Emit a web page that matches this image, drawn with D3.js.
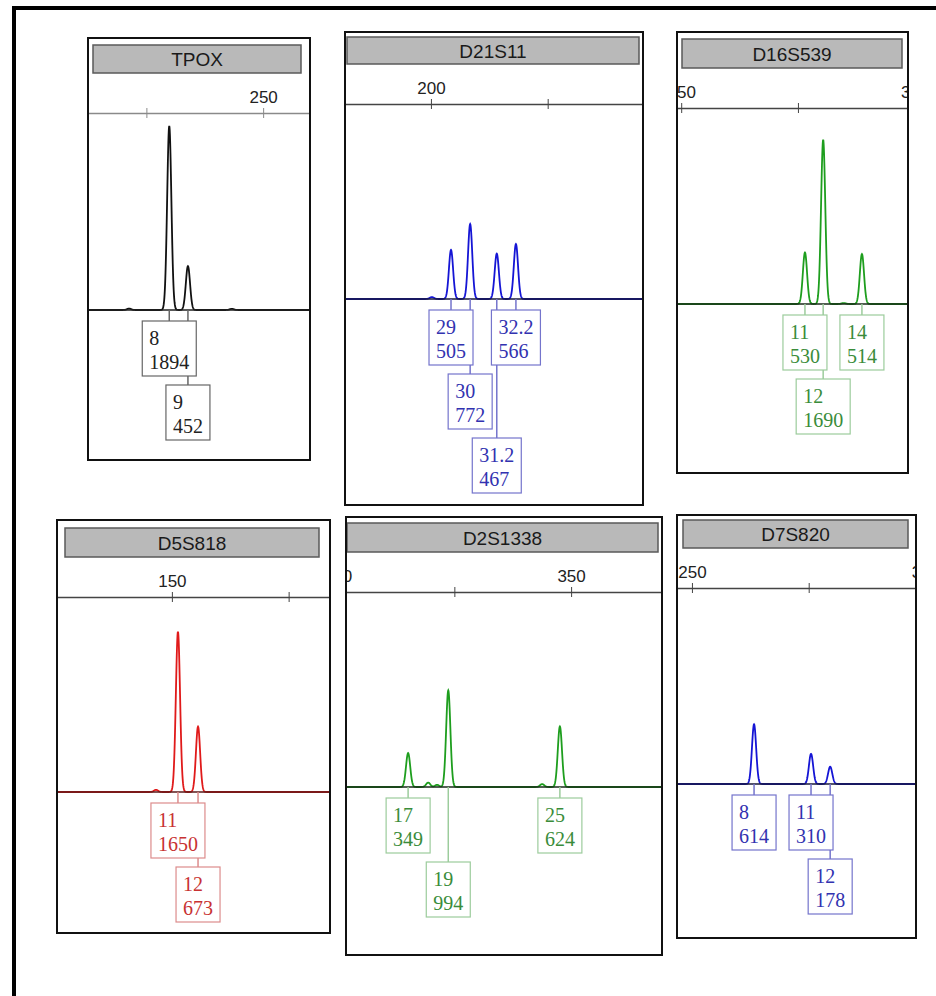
<!DOCTYPE html>
<html lang="en">
<head>
<meta charset="UTF-8">
<title>STR electropherogram</title>
<script src="https://d3js.org/d3.v7.min.js"></script>
<style>
  * { margin: 0; padding: 0 }
  body { background: #fff; }
</style>
</head>
<body>
<script>
// locus data
const loci = ['TPOX', 'D21S11', 'D16S539', 'D5S818', 'D2S1338', 'D7S820'];
const dyes = ['black', 'blue', 'green', 'red', 'green', 'blue'];
const alleles = [['8', '9'], ['29', '30', '31.2', '32.2'], ['11', '12', '14'], ['11', '12'], ['17', '19', '25'], ['8', '11', '12']];
const sizes = [[229.9, 233.9], [204.3, 208.4, 214.1, 218.2], [276.5, 280.4, 288.7], [151.3, 155.6], [315.1, 323.7, 347.6], [263.3, 275.5, 279.6]];
const heights = [[1894, 452], [505, 772, 467, 566], [530, 1690, 514], [1650, 673], [349, 994, 624], [614, 310, 178]];
// small unlabelled bumps [bp, rfu]
const minorPeaks = [[[221.3, 15], [243.3, 12]], [[200.2, 20]], [[284.8, 10]], [[146.6, 22]], [[319.4, 45], [321.3, 22], [343.8, 30]], []];
const tickValues = [[225, 250], [200, 225], [250, 275, 300], [150, 175], [300, 325, 350], [250, 275, 300]];

// panel geometry
const layout = [
    { x: 88, y: 38, w: 222, h: 422, bp0: 212.5, axisY: 75, baseY: 272, bar: [5, 7, 208, 28], axisColor: '#8a8a8a' },
    { x: 345, y: 32, w: 298, h: 473, bp0: 181.6, axisY: 72, baseY: 267, bar: [2, 5, 292, 27], axisColor: '#444' },
    { x: 677, y: 32, w: 231, h: 441, bp0: 249.1, axisY: 76, baseY: 272, bar: [5, 7, 220, 29], axisColor: '#444' },
    { x: 57, y: 520, w: 273, h: 413, bp0: 125.4, axisY: 77, baseY: 272, bar: [8, 8, 254, 29], axisColor: '#444' },
    { x: 346, y: 517, w: 316, h: 438, bp0: 301.8, axisY: 75, baseY: 270, bar: [1, 6, 311, 29], axisColor: '#444' },
    { x: 677, y: 515, w: 239, h: 423, bp0: 246.8, axisY: 73, baseY: 269, bar: [6, 5, 225, 28], axisColor: '#444' }
];

const palette = {
    black: { trace: '#111', base: '#222', text: '#222', box: '#666' },
    blue: { trace: '#1515d5', base: '#1a1a3a', text: '#3232b0', box: '#7474cc' },
    green: { trace: '#1e9e1e', base: '#1a2a1a', text: '#3a8c3a', box: '#9ccc9c' },
    red: { trace: '#e01a1a', base: '#5a1a1a', text: '#c83232', box: '#dc8c8c' }
};

const pxPerBp = 4.67;
const sigma = 0.45;
const W = 936, H = 996;

const svg = d3.select('body').append('svg')
    .attr('width', W)
    .attr('height', H);

// outer frame (top and left only)
svg.append('path')
    .attr('d', 'M14,' + H + 'V8H' + W)
    .attr('fill', 'none')
    .attr('stroke', '#000')
    .attr('stroke-width', 4);

// shared height scale, px per rfu
const y = d3.scaleLinear().domain([0, 2000]).range([0, 194.4]);

const defs = svg.append('defs');

loci.forEach((name, i) => {
    const L = layout[i];
    const col = palette[dyes[i]];
    const x = d3.scaleLinear()
        .domain([L.bp0, L.bp0 + L.w / pxPerBp])
        .range([0, L.w]);

    defs.append('clipPath').attr('id', 'clip' + i)
        .append('rect').attr('width', L.w).attr('height', L.h);

    const g = svg.append('g')
        .attr('transform', 'translate(' + L.x + ',' + L.y + ')');
    const inner = g.append('g').attr('clip-path', 'url(#clip' + i + ')');

    inner.append('rect')
        .attr('width', L.w).attr('height', L.h)
        .attr('fill', '#fff');

    // title bar
    inner.append('rect')
        .attr('x', L.bar[0]).attr('y', L.bar[1])
        .attr('width', L.bar[2]).attr('height', L.bar[3])
        .attr('fill', '#b9b9b9')
        .attr('stroke', '#5a5a5a')
        .attr('stroke-width', 1.5);
    inner.append('text')
        .attr('x', L.bar[0] + L.bar[2] / 2)
        .attr('y', L.bar[1] + L.bar[3] / 2 + 7)
        .attr('text-anchor', 'middle')
        .style('font-family', 'Liberation Sans, Arial, sans-serif')
        .style('font-size', '19px')
        .attr('fill', '#1a1a1a')
        .text(name);

    // size axis
    const axis = d3.axisTop(x)
        .tickValues(tickValues[i])
        .tickSize(5)
        .tickSizeOuter(0)
        .tickPadding(5)
        .tickFormat(d => d % 50 === 0 ? d : '');
    const ax = inner.append('g')
        .attr('transform', 'translate(0,' + L.axisY + ')')
        .call(axis);
    ax.select('.domain').attr('stroke', L.axisColor).attr('stroke-width', 1.5);
    ax.selectAll('.tick line').attr('y1', 5).attr('stroke', L.axisColor);
    ax.selectAll('.tick text')
        .style('font-family', 'Liberation Sans, Arial, sans-serif')
        .style('font-size', '17px')
        .attr('fill', '#222');

    // trace: sum of narrow peaks
    const all = sizes[i].map((s, k) => [s, heights[i][k]]).concat(minorPeaks[i]);
    const domain = x.domain();
    const pts = d3.range(domain[0], domain[1], 0.05).map(bp => {
        let v = 0;
        all.forEach(p => { v += p[1] * Math.exp(-((bp - p[0]) ** 2) / (2 * sigma * sigma)); });
        return [bp, v];
    });
    const line = d3.line()
        .x(d => x(d[0]))
        .y(d => L.baseY - y(d[1]));
    inner.append('path')
        .attr('d', line(pts))
        .attr('fill', 'none')
        .attr('stroke', col.trace)
        .attr('stroke-width', 1.8);
    inner.append('line')
        .attr('x1', 0).attr('x2', L.w)
        .attr('y1', L.baseY).attr('y2', L.baseY)
        .attr('stroke', col.base)
        .attr('stroke-width', 1.3);

    // allele label boxes, greedy row placement
    const rowTop = r => L.baseY + 11 + r * 64;
    const boxH = 55;
    const rows = [];
    const lines = inner.append('g');
    const boxes = inner.append('g');
    alleles[i].forEach((a, k) => {
        const cx = x(sizes[i][k]);
        const grp = boxes.append('g');
        const t1 = grp.append('text').text(a);
        const t2 = grp.append('text').text(heights[i][k]);
        grp.selectAll('text')
            .style('font-family', 'Liberation Serif, Times New Roman, serif')
            .style('font-size', '20px')
            .attr('fill', col.text);
        const tw = Math.max(t1.node().getComputedTextLength(), t2.node().getComputedTextLength());
        const bw = tw + 14;
        const x0 = cx - bw / 2, x1 = cx + bw / 2;
        let r = 0;
        while (rows[r] && rows[r].some(b => x0 < b[1] + 6 && x1 > b[0] - 6)) r++;
        (rows[r] = rows[r] || []).push([x0, x1]);
        const top = rowTop(r);
        grp.insert('rect', 'text')
            .attr('x', x0).attr('y', top)
            .attr('width', bw).attr('height', boxH)
            .attr('fill', '#fff')
            .attr('stroke', col.box)
            .attr('stroke-width', 1.2);
        t1.attr('x', x0 + 7).attr('y', top + 24);
        t2.attr('x', x0 + 7).attr('y', top + 48);
        lines.append('line')
            .attr('x1', cx).attr('x2', cx)
            .attr('y1', L.baseY).attr('y2', top)
            .attr('stroke', col.box)
            .attr('stroke-width', 1.5);
    });

    // panel border
    g.append('rect')
        .attr('width', L.w).attr('height', L.h)
        .attr('fill', 'none')
        .attr('stroke', '#111')
        .attr('stroke-width', 2);
});
</script>
</body>
</html>
